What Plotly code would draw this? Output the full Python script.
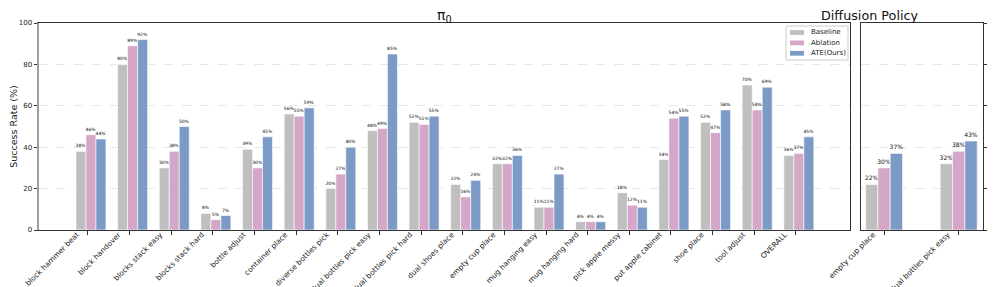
import plotly.graph_objects as go

# ---------------- data ----------------
tasks_pi0 = ["block hammer beat", "block handover", "blocks stack easy", "blocks stack hard",
             "bottle adjust", "container place", "diverse bottles pick", "dual bottles pick easy",
             "dual bottles pick hard", "dual shoes place", "empty cup place", "mug hanging easy",
             "mug hanging hard", "pick apple messy", "put apple cabinet", "shoe place",
             "tool adjust", "OVERALL"]
baseline_pi0 = [38, 80, 30, 8, 39, 56, 20, 48, 52, 22, 32, 11, 4, 18, 34, 52, 70, 36]
ablation_pi0 = [46, 89, 38, 5, 30, 55, 27, 49, 51, 16, 32, 11, 4, 12, 54, 47, 58, 37]
ate_pi0      = [44, 92, 50, 7, 45, 59, 40, 85, 55, 24, 36, 27, 4, 11, 55, 58, 69, 45]

tasks_dp = ["empty cup place", "dual bottles pick easy"]
baseline_dp = [22, 32]
ablation_dp = [30, 38]
ate_dp      = [37, 43]

series_names = ["Baseline", "Ablation", "ATE(Ours)"]
colors = ["#bfbfbf", "#d4a6c8", "#7b9bc6"]
y_ticks = [0, 20, 40, 60, 80, 100]

FONT = "DejaVu Sans"
W, H = 996, 287

def px_x(p):
    return p / W

def px_y(p):
    return 1 - p / H

fig = go.Figure()

left_offsets = [-0.288, -0.048, 0.192]
left_width = 0.24
for name, vals, col, off in zip(series_names, [baseline_pi0, ablation_pi0, ate_pi0], colors, left_offsets):
    fig.add_trace(go.Bar(
        x=tasks_pi0, y=vals, name=name, marker=dict(color=col, line=dict(color="white", width=0.6)),
        offset=off, width=left_width, xaxis="x", yaxis="y", showlegend=False,
        text=[f"{v}%" for v in vals], textposition="outside", constraintext="none",
        textfont=dict(size=4.5, family=FONT, color="#000"), cliponaxis=False,
        hoverinfo="x+y",
    ))

right_offsets = [-0.247, -0.082, 0.083]
right_width = 0.165
for name, vals, col, off in zip(series_names, [baseline_dp, ablation_dp, ate_dp], colors, right_offsets):
    fig.add_trace(go.Bar(
        x=tasks_dp, y=vals, name=name, marker=dict(color=col, line=dict(color="white", width=0.6)),
        offset=off, width=right_width, xaxis="x2", yaxis="y2", showlegend=False,
        text=[f"{v}%" for v in vals], textposition="outside", constraintext="none",
        textfont=dict(size=6, family=FONT, color="#111"), cliponaxis=False,
        hoverinfo="x+y",
    ))

axis_common = dict(showline=True, linecolor="#333", linewidth=1, mirror=True, automargin=False,
                   ticks="outside", ticklen=3.5, tickwidth=1, tickcolor="#333")
xtickfont = dict(size=7.4, family=FONT, color="#222")
ytickfont = dict(size=7, family=FONT, color="#222")

# custom compact legend (drawn in paper coordinates)
legend_shapes = [
    dict(type="rect", xref="paper", yref="paper", x0=px_x(778), x1=px_x(840), y0=px_y(52), y1=px_y(18),
         line=dict(color="#cccccc", width=1), fillcolor="rgba(255,255,255,0.9)", layer="above"),
]
legend_annots = []
for i, (name, col) in enumerate(zip(series_names, colors)):
    yc = 24.5 + i * 10.4
    legend_shapes.append(dict(type="rect", xref="paper", yref="paper",
                              x0=px_x(782), x1=px_x(796), y0=px_y(yc + 2.4), y1=px_y(yc - 2.4),
                              line=dict(width=0), fillcolor=col, layer="above"))
    legend_annots.append(dict(text=name, x=px_x(801), y=px_y(yc), xref="paper", yref="paper",
                              xanchor="left", yanchor="middle", showarrow=False,
                              font=dict(size=7, family=FONT, color="#222")))

xlabel_adjust = dict(ticklabelshift=-11, ticklabelstandoff=-7)

fig.update_layout(
    width=W, height=H, margin=dict(l=0, r=0, t=0, b=0),
    paper_bgcolor="white", plot_bgcolor="white",
    barmode="overlay", showlegend=False,
    font=dict(family=FONT, color="#222"),
    xaxis=dict(domain=[px_x(30), px_x(842)], anchor="y", range=[-1.2, 18.3],
               tickangle=-45, tickfont=xtickfont, **xlabel_adjust, **axis_common, showgrid=False),
    yaxis=dict(domain=[px_y(222), px_y(15)], anchor="x", range=[0, 100], tickvals=y_ticks,
               tickfont=ytickfont,
               showgrid=True, gridcolor="#e6e6e6", griddash="dash", gridwidth=0.8,
               title=dict(text="Success Rate (%)", font=dict(size=9.5, family=FONT), standoff=5),
               zeroline=False, **axis_common),
    xaxis2=dict(domain=[px_x(852.5), px_x(974.5)], anchor="y2", range=[-0.315, 1.319],
                tickangle=-45, tickfont=xtickfont, **xlabel_adjust, **axis_common, showgrid=False),
    yaxis2=dict(domain=[px_y(222), px_y(15)], anchor="x2", range=[0, 100], tickvals=y_ticks,
                tickfont=ytickfont,
                side="right", showgrid=True, gridcolor="#e6e6e6", griddash="dash", gridwidth=0.8,
                zeroline=False, **axis_common),
    annotations=[
        dict(text="π<sub>0</sub>", x=px_x(436), y=px_y(8), xref="paper", yref="paper",
             showarrow=False, font=dict(size=14, family=FONT, color="#111"), yanchor="middle"),
        dict(text="Diffusion Policy", x=px_x(912), y=px_y(7), xref="paper", yref="paper",
             showarrow=False, font=dict(size=12.75, family=FONT, color="#111"), yanchor="middle"),
    ] + legend_annots,
    shapes=[
        dict(type="line", xref="x domain", yref="y domain", x0=0, x1=0, y0=0, y1=1,
             line=dict(color="#a0a0a0", width=2)),
    ] + legend_shapes,
)

fig.write_html("out.html")
